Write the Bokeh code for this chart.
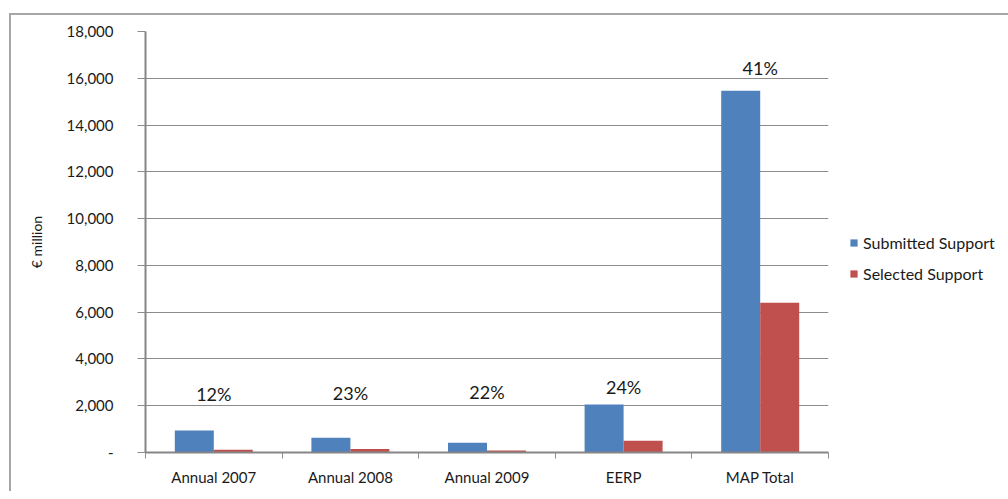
import numpy as np
from bokeh.plotting import figure
from bokeh.models import FixedTicker, Legend, LegendItem, ColumnDataSource, Range1d, NumeralTickFormatter
from bokeh.core.properties import value
from bokeh.embed import file_html
from bokeh.resources import INLINE

categories = ["Annual 2007", "Annual 2008", "Annual 2009", "EERP", "MAP Total"]
submitted = [940, 630, 415, 2050, 15470]
selected = [115, 145, 90, 500, 6400]
pct_labels = ["12%", "23%", "22%", "24%", "41%"]
pct_label_y = [2522, 2565, 2608, 2780, 16460]
y_ticks = [0, 2000, 4000, 6000, 8000, 10000, 12000, 14000, 16000, 18000]

FONT = "Lato"
BLUE = "#4F81BD"
RED = "#C0504D"

n = len(categories)
centers = np.arange(n) + 0.5
bar_w = 0.2855

src = ColumnDataSource(dict(
    x_sub=centers - bar_w / 2,
    x_sel=centers + bar_w / 2,
    submitted=submitted,
    selected=selected,
    cx=centers,
    ly=pct_label_y,
    lab=pct_labels,
))

p = figure(width=994, height=476, output_backend="svg", toolbar_location=None,
           x_range=Range1d(0, n), y_range=Range1d(0, 18000),
           min_border_left=134, min_border_top=16, min_border_bottom=39, min_border_right=177)
p.frame_width = 683
p.frame_height = 421
p.styles = {"border-top": "2px solid #a6a6a6", "border-left": "2px solid #a6a6a6",
            "margin-top": "13px", "margin-left": "9px"}
p.outline_line_color = None
p.background_fill_color = "white"
p.border_fill_color = "white"

r1 = p.vbar(x="x_sub", top="submitted", width=bar_w, source=src, fill_color=BLUE, line_color=None)
r2 = p.vbar(x="x_sel", top="selected", width=bar_w, source=src, fill_color=RED, line_color=None)

p.text(x="cx", y="ly", text="lab", source=src, text_align="center", text_baseline="middle",
       text_font=value(FONT), text_font_size="18px", text_color="#1a1a1a")

# y axis
p.yaxis.ticker = FixedTicker(ticks=y_ticks)
p.yaxis.formatter = NumeralTickFormatter(format="0,0")
p.yaxis.major_label_overrides = {0: "-"}
p.yaxis.minor_tick_line_color = None
p.yaxis.major_tick_out = 8
p.yaxis.major_tick_in = 0
p.yaxis.major_tick_line_color = "#8c8c8c"
p.yaxis.axis_line_color = "#868686"
p.yaxis.axis_line_width = 2
p.yaxis.major_label_standoff = 24
p.yaxis.major_label_text_font = FONT
p.yaxis.major_label_text_font_size = "15px"
p.yaxis.major_label_text_color = "#1a1a1a"
p.yaxis.axis_label = "€ million"
p.yaxis.axis_label_text_font = FONT
p.yaxis.axis_label_text_font_style = "normal"
p.yaxis.axis_label_text_font_size = "14px"
p.yaxis.axis_label_text_color = "#1a1a1a"
p.yaxis.axis_label_standoff = 19

# x axis
p.xaxis.ticker = FixedTicker(ticks=list(centers), minor_ticks=list(range(n + 1)))
p.xaxis.major_label_overrides = {float(c): cat for c, cat in zip(centers, categories)}
p.xaxis.major_tick_line_color = None
p.xaxis.minor_tick_out = 6
p.xaxis.minor_tick_in = 0
p.xaxis.minor_tick_line_color = "#8c8c8c"
p.xaxis.axis_line_color = "#868686"
p.xaxis.axis_line_width = 2
p.xaxis.major_label_standoff = 9
p.xaxis.major_label_text_font = FONT
p.xaxis.major_label_text_font_size = "15px"
p.xaxis.major_label_text_color = "#1a1a1a"

p.xgrid.grid_line_color = None
p.ygrid.grid_line_color = "#8c8c8c"
p.ygrid.grid_line_width = 1

legend = Legend(items=[LegendItem(label="Submitted Support", renderers=[r1]),
                       LegendItem(label="Selected Support", renderers=[r2])],
                location=(21, 169.5), orientation="vertical",
                glyph_width=9, glyph_height=9, label_height=9, spacing=12,
                padding=0, margin=0, label_standoff=5,
                border_line_color=None, background_fill_alpha=0,
                label_text_font=FONT, label_text_font_size="16px",
                label_text_color="#1a1a1a", label_text_baseline="middle")
p.add_layout(legend, "right")

open("out.html", "w").write(file_html(p, INLINE))
